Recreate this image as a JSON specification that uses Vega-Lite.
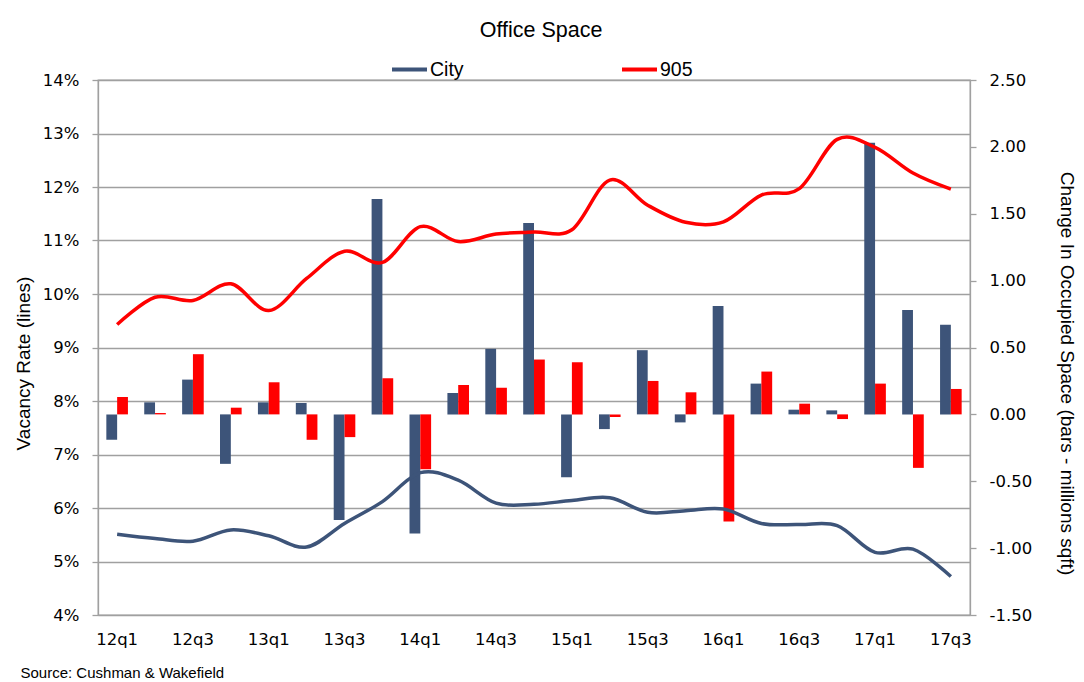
{
  "$schema": "https://vega.github.io/schema/vega-lite/v6.json",
  "width": 872,
  "height": 535,
  "autosize": {"type": "none"},
  "padding": {"left": 98, "top": 80, "right": 114, "bottom": 67},
  "background": "white",
  "title": {"text": "Office Space", "font": "Liberation Sans", "fontSize": 21.5, "fontWeight": "normal", "color": "#000", "anchor": "middle", "frame": "group", "dx": 7, "offset": 9},
  "config": {
    "view": {"stroke": "#a0a0a0", "strokeWidth": 1.3},
    "axis": {"labelColor": "#000", "titleColor": "#000", "domainColor": "#a0a0a0", "tickColor": "#a0a0a0", "gridColor": "#a0a0a0", "gridWidth": 1.3, "domainWidth": 1.3, "tickWidth": 1.3}
  },
  "data": {"values": [
    {"q": "12q1", "series": "City", "change": -0.19, "vacancy": 0.0551},
    {"q": "12q1", "series": "905", "change": 0.13, "vacancy": 0.0943},
    {"q": "12q2", "series": "City", "change": 0.09, "vacancy": 0.0543},
    {"q": "12q2", "series": "905", "change": 0.01, "vacancy": 0.0994},
    {"q": "12q3", "series": "City", "change": 0.26, "vacancy": 0.0538},
    {"q": "12q3", "series": "905", "change": 0.45, "vacancy": 0.0988},
    {"q": "12q4", "series": "City", "change": -0.37, "vacancy": 0.0559},
    {"q": "12q4", "series": "905", "change": 0.05, "vacancy": 0.1019},
    {"q": "13q1", "series": "City", "change": 0.09, "vacancy": 0.0548},
    {"q": "13q1", "series": "905", "change": 0.24, "vacancy": 0.0969},
    {"q": "13q2", "series": "City", "change": 0.085, "vacancy": 0.0527},
    {"q": "13q2", "series": "905", "change": -0.19, "vacancy": 0.1029},
    {"q": "13q3", "series": "City", "change": -0.79, "vacancy": 0.0571},
    {"q": "13q3", "series": "905", "change": -0.17, "vacancy": 0.1080},
    {"q": "13q4", "series": "City", "change": 1.61, "vacancy": 0.0612},
    {"q": "13q4", "series": "905", "change": 0.27, "vacancy": 0.1059},
    {"q": "14q1", "series": "City", "change": -0.89, "vacancy": 0.0666},
    {"q": "14q1", "series": "905", "change": -0.41, "vacancy": 0.1126},
    {"q": "14q2", "series": "City", "change": 0.16, "vacancy": 0.0652},
    {"q": "14q2", "series": "905", "change": 0.22, "vacancy": 0.1098},
    {"q": "14q3", "series": "City", "change": 0.49, "vacancy": 0.0609},
    {"q": "14q3", "series": "905", "change": 0.20, "vacancy": 0.1112},
    {"q": "14q4", "series": "City", "change": 1.43, "vacancy": 0.0607},
    {"q": "14q4", "series": "905", "change": 0.41, "vacancy": 0.1116},
    {"q": "15q1", "series": "City", "change": -0.47, "vacancy": 0.0614},
    {"q": "15q1", "series": "905", "change": 0.39, "vacancy": 0.1120},
    {"q": "15q2", "series": "City", "change": -0.11, "vacancy": 0.0619},
    {"q": "15q2", "series": "905", "change": -0.02, "vacancy": 0.1213},
    {"q": "15q3", "series": "City", "change": 0.48, "vacancy": 0.0592},
    {"q": "15q3", "series": "905", "change": 0.25, "vacancy": 0.1166},
    {"q": "15q4", "series": "City", "change": -0.06, "vacancy": 0.0595},
    {"q": "15q4", "series": "905", "change": 0.165, "vacancy": 0.1134},
    {"q": "16q1", "series": "City", "change": 0.81, "vacancy": 0.0598},
    {"q": "16q1", "series": "905", "change": -0.80, "vacancy": 0.1135},
    {"q": "16q2", "series": "City", "change": 0.23, "vacancy": 0.0571},
    {"q": "16q2", "series": "905", "change": 0.32, "vacancy": 0.1185},
    {"q": "16q3", "series": "City", "change": 0.035, "vacancy": 0.0569},
    {"q": "16q3", "series": "905", "change": 0.08, "vacancy": 0.1197},
    {"q": "16q4", "series": "City", "change": 0.03, "vacancy": 0.0567},
    {"q": "16q4", "series": "905", "change": -0.035, "vacancy": 0.1289},
    {"q": "17q1", "series": "City", "change": 2.03, "vacancy": 0.0517},
    {"q": "17q1", "series": "905", "change": 0.23, "vacancy": 0.1274},
    {"q": "17q2", "series": "City", "change": 0.78, "vacancy": 0.0523},
    {"q": "17q2", "series": "905", "change": -0.40, "vacancy": 0.1226},
    {"q": "17q3", "series": "City", "change": 0.67, "vacancy": 0.0472},
    {"q": "17q3", "series": "905", "change": 0.19, "vacancy": 0.1196}
  ]},
  "layer": [
    {
      "mark": {"type": "bar"},
      "encoding": {
        "x": {
          "field": "q", "type": "ordinal", "sort": null,
          "scale": {"paddingInner": 0.43, "paddingOuter": 0.22},
          "axis": {
            "values": ["12q1", "12q3", "13q1", "13q3", "14q1", "14q3", "15q1", "15q3", "16q1", "16q3", "17q1", "17q3"],
            "labelAngle": 0, "ticks": false, "domain": false, "grid": false,
            "labelPadding": 16, "labelFont": "DejaVu Sans", "labelFontSize": 16.5,
            "title": "Source: Cushman & Wakefield", "titleFont": "Liberation Sans", "titleFontSize": 15, "titleFontWeight": "normal",
            "titleAnchor": "start", "titleAlign": "left", "titleX": -78, "titleY": 62, "titleBaseline": "alphabetic"
          }
        },
        "xOffset": {"field": "series", "type": "nominal", "sort": ["City", "905"], "scale": {"paddingInner": 0, "paddingOuter": 0}},
        "y": {
          "field": "change", "type": "quantitative",
          "scale": {"domain": [-1.5, 2.5], "nice": false, "zero": false},
          "axis": {
            "orient": "right", "values": [-1.5, -1, -0.5, 0, 0.5, 1, 1.5, 2, 2.5],
            "labelExpr": "replace(format(datum.value, '.2f'), '\u2212', '-')",
            "grid": false, "tickSize": 6, "labelPadding": 13,
            "labelFont": "DejaVu Sans", "labelFontSize": 16.5,
            "title": "Change In Occupied Space (bars - millions sqft)", "titleFont": "Liberation Sans", "titleFontSize": 19, "titleFontWeight": "normal",
            "titleAngle": 90, "titleX": 96, "titleY": 293, "titleBaseline": "middle", "titleAlign": "center"
          }
        },
        "color": {
          "field": "series", "type": "nominal",
          "scale": {"domain": ["City", "905"], "range": ["#3D5479", "#FF0000"]},
          "legend": {
            "orient": "none", "legendX": 292, "legendY": -30, "direction": "horizontal", "columns": 2, "columnPadding": 150,
            "symbolType": "stroke", "symbolSize": 1225, "symbolStrokeWidth": 4,
            "labelFont": "Liberation Sans", "labelFontSize": 19.5, "labelOffset": 1, "labelColor": "#000", "title": null, "padding": 0
          }
        }
      }
    },
    {
      "mark": {"type": "line", "interpolate": "cardinal", "strokeWidth": 3.5},
      "encoding": {
        "x": {"field": "q", "type": "ordinal", "sort": null},
        "y": {
          "field": "vacancy", "type": "quantitative",
          "scale": {"domain": [0.04, 0.14], "nice": false, "zero": false},
          "axis": {
            "orient": "left", "values": [0.04, 0.05, 0.06, 0.07, 0.08, 0.09, 0.1, 0.11, 0.12, 0.13, 0.14],
            "format": ".0%", "grid": true, "tickSize": 6, "labelPadding": 13,
            "labelFont": "DejaVu Sans", "labelFontSize": 16.5,
            "title": "Vacancy Rate (lines)", "titleFont": "Liberation Sans", "titleFontSize": 19, "titleFontWeight": "normal",
            "titleAngle": -90, "titleX": -75, "titleY": 283, "titleBaseline": "middle", "titleAlign": "center"
          }
        },
        "color": {"field": "series", "type": "nominal"}
      }
    }
  ],
  "resolve": {"scale": {"y": "independent"}}
}
